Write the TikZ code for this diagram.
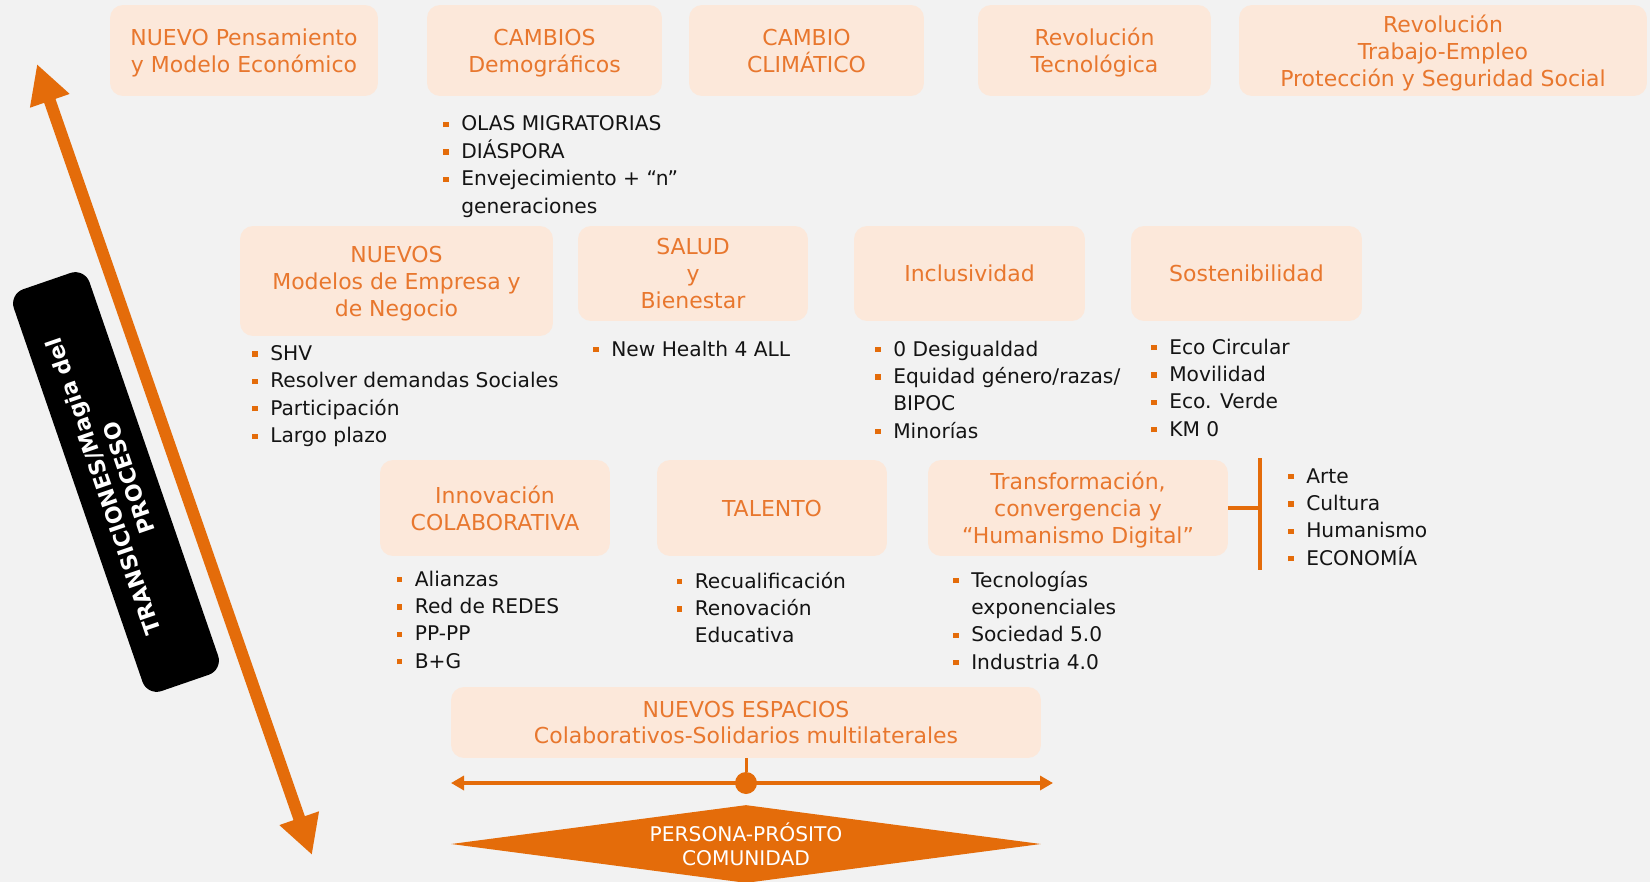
\documentclass[tikz,border=0pt]{standalone}
\usepackage{fontspec}
\setmainfont{DejaVu Sans}
\usetikzlibrary{arrows.meta,shapes.geometric}
\definecolor{bg}{HTML}{F2F2F2}
\definecolor{peach}{HTML}{FCE8DA}
\definecolor{orangetxt}{HTML}{E8772E}
\definecolor{orangeline}{HTML}{E46C0A}
\definecolor{ink}{HTML}{141414}
\newcommand{\bul}{\textcolor{orangeline}{\rule[2.2pt]{3pt}{3pt}}}
\newcommand{\blist}[1]{\begin{tabular}[t]{@{}l@{\hspace{7.2pt}}l@{}}#1\end{tabular}}
\begin{document}
\begin{tikzpicture}
          [x=0.02cm,y=-0.02cm,
           topic/.style={fill=peach, text=orangetxt, rounded corners=0.26cm, align=center, inner sep=0pt,
                         text depth=-1.5pt, font=\fontsize{12.5}{15.4}\selectfont},
           items/.style={anchor=base west, inner sep=0pt, text=ink, font=\fontsize{11.5}{15.6}\selectfont},
           magia/.style={fill=black, text=white, rounded corners=0.3cm, rotate=109, align=center, inner sep=0pt,
                         minimum width=8.5cm, minimum height=1.6cm, font=\bfseries\fontsize{12.5}{15.4}\selectfont},
           persona/.style={diamond, aspect=7.56, fill=orangeline, text=white, align=center, inner sep=0pt,
                           minimum width=11.8cm, minimum height=1.56cm, font=\fontsize{11.5}{13.7}\selectfont},
           bigarrow/.style={draw=orangeline, line width=0.24cm, {Triangle[length=0.78cm,width=0.78cm]}-{Triangle[length=0.78cm,width=0.78cm]}},
           thinarrow/.style={draw=orangeline, line width=0.08cm, {Triangle[length=0.26cm,width=0.28cm]}-{Triangle[length=0.26cm,width=0.28cm]}},
           link/.style={draw=orangeline, line width=0.07cm}]
        \fill[bg] (0,0) rectangle (1650,882);
        \useasboundingbox (0,0) rectangle (1650,882);

        \node[topic, minimum width=5.36cm, minimum height=1.82cm] (pensamiento) at (244,50.5) {NUEVO Pensamiento\\y Modelo Económico};
        \node[topic, minimum width=4.70cm, minimum height=1.82cm] (cambios) at (544.5,50.5) {CAMBIOS\\Demográficos};
        \node[topic, minimum width=4.70cm, minimum height=1.82cm] (clima) at (806.5,50.5) {CAMBIO\\CLIMÁTICO};
        \node[topic, minimum width=4.66cm, minimum height=1.82cm] (tecno) at (1094.5,50.5) {Revolución\\Tecnológica};
        \node[topic, minimum width=8.16cm, minimum height=1.82cm] (trabajo) at (1443,50.5) {Revolución\\Trabajo-Empleo\\Protección y Seguridad Social};

        \node[topic, minimum width=6.26cm, minimum height=2.20cm] (modelos) at (396.5,281) {NUEVOS\\Modelos de Empresa y\\de Negocio};
        \node[topic, minimum width=4.60cm, minimum height=1.90cm] (salud) at (693,273.5) {SALUD\\y\\Bienestar};
        \node[topic, minimum width=4.62cm, minimum height=1.90cm] (inclus) at (969.5,273.5) {Inclusividad};
        \node[topic, minimum width=4.62cm, minimum height=1.90cm] (sosten) at (1246.5,273.5) {Sostenibilidad};

        \node[topic, minimum width=4.60cm, minimum height=1.92cm] (innov) at (495,508) {Innovación\\COLABORATIVA};
        \node[topic, minimum width=4.60cm, minimum height=1.92cm] (talento) at (772,508) {TALENTO};
        \node[topic, minimum width=6.00cm, minimum height=1.92cm] (transf) at (1078,508) {Transformación,\\convergencia y\\“Humanismo Digital”};

        \node[topic, minimum width=11.8cm, minimum height=1.42cm, font=\fontsize{12.5}{14.6}\selectfont] (espacios) at (746,722.5)
          {NUEVOS ESPACIOS\\Colaborativos-Solidarios multilaterales};

        \node[items] (lcambios) at (443,131) {\blist{\bul & OLAS MIGRATORIAS\\ \bul & DIÁSPORA\\ \bul & Envejecimiento + “n”\\ & generaciones}};
        \node[items] (lmodelos) at (252,360.5) {\blist{\bul & SHV\\ \bul & Resolver demandas Sociales\\ \bul & Participación\\ \bul & Largo plazo}};
        \node[items] (lsalud) at (593,356) {\blist{\bul & New Health 4 ALL}};
        \node[items] (linclus) at (875,356) {\blist{\bul & 0 Desigualdad\\ \bul & Equidad género/razas/\\ & BIPOC\\ \bul & Minorías}};
        \node[items] (lsosten) at (1151,354) {\blist{\bul & Eco Circular\\ \bul & Movilidad\\ \bul & Eco. Verde\\ \bul & KM 0}};
        \node[items] (linnov) at (396.6,586) {\blist{\bul & Alianzas\\ \bul & Red de REDES\\ \bul & PP-PP\\ \bul & B+G}};
        \node[items] (ltalento) at (676.5,588) {\blist{\bul & Recualificación\\ \bul & Renovación\\ & Educativa}};
        \node[items] (ltransf) at (953,587) {\blist{\bul & Tecnologías\\ & exponenciales\\ \bul & Sociedad 5.0\\ \bul & Industria 4.0}};
        \node[items] (lcultura) at (1288,483) {\blist{\bul & Arte\\ \bul & Cultura\\ \bul & Humanismo\\ \bul & ECONOMÍA}};

        \coordinate (bk) at (1260,508);
        \coordinate (bktop) at (1260,458);
        \coordinate (bkbot) at (1260,570);
        \draw[link] (transf.east) -- (bk);
        \draw[link] (bktop) -- (bkbot);

        \node[circle, fill=orangeline, inner sep=0pt, minimum size=0.44cm] (dot) at (746,783) {};
        \coordinate (hl) at (451,783);
        \coordinate (hr) at (1053,783);
        \draw[thinarrow] (hl) -- (hr);
        \draw[link, line width=0.06cm] (espacios.south) -- (dot);

        \node[persona] (persona) at (746,844) {PERSONA-PRÓSITO\\COMUNIDAD};

        \coordinate (up) at (37,64);
        \coordinate (down) at (312,855);
        \draw[bigarrow] (up) -- (down);
        \node[magia] (magia) at (116,482) {TRANSICIONES/Magia del\\PROCESO};
      \end{tikzpicture}
\end{document}
